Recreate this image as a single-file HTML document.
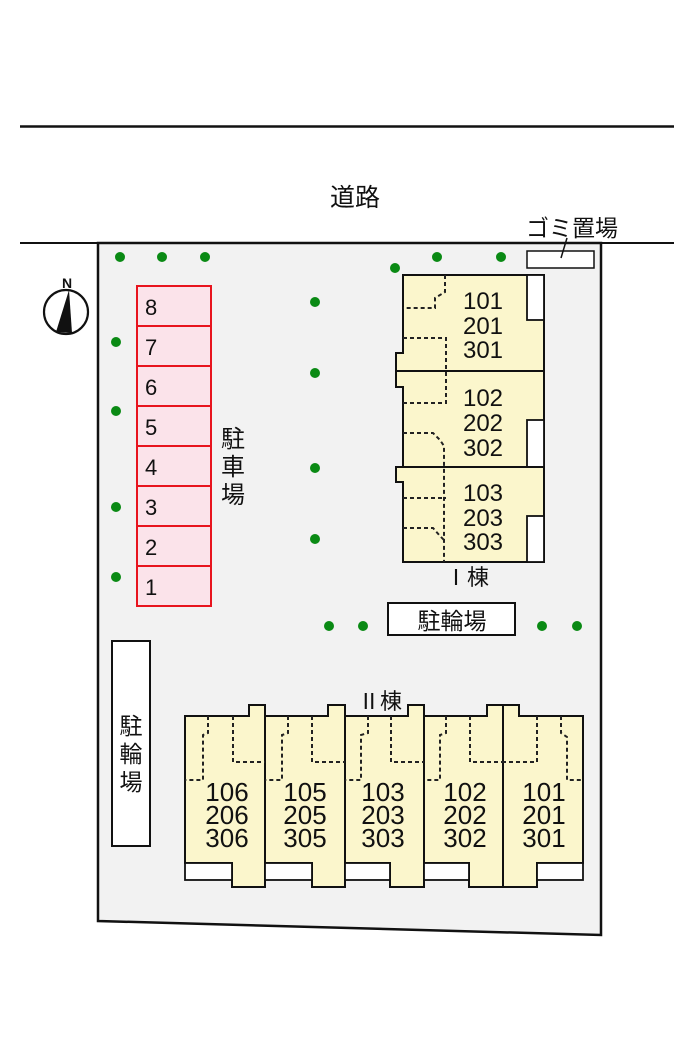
<!DOCTYPE html>
<html><head><meta charset="utf-8">
<style>
html,body{margin:0;padding:0;background:#fff;}
svg{display:block;}
text{font-family:"Liberation Sans","Noto Sans CJK JP",sans-serif;fill:#111;}
</style></head>
<body>
<svg width="700" height="1049" viewBox="0 0 700 1049" xmlns="http://www.w3.org/2000/svg">
<rect width="700" height="1049" fill="#fff"/>
<line x1="20" y1="126.5" x2="674" y2="126.5" stroke="#111" stroke-width="2.5"/>
<text x="355" y="206" font-size="25" text-anchor="middle">道路</text>
<polygon points="98,243 601,243 601,935 98,921" fill="#f2f2f2" stroke="#111" stroke-width="2.5"/>
<line x1="20" y1="243" x2="674" y2="243" stroke="#111" stroke-width="2"/>
<text x="572" y="236" font-size="23" text-anchor="middle">ゴミ置場</text>
<rect x="527" y="251" width="67" height="17" fill="#fff" stroke="#111" stroke-width="1.5"/>
<line x1="567" y1="238" x2="561" y2="258" stroke="#111" stroke-width="1.5"/>
<circle cx="66" cy="312" r="22" fill="#fff" stroke="#111" stroke-width="2.2"/>
<polygon points="69,290 56,332 72,333" fill="#111"/>
<text x="67" y="288" font-size="14" font-weight="bold" text-anchor="middle">N</text>
<g fill="#0a8a14">
<circle cx="120" cy="257" r="5"/><circle cx="162" cy="257" r="5"/><circle cx="205" cy="257" r="5"/>
<circle cx="395" cy="268" r="5"/><circle cx="437" cy="257" r="5"/><circle cx="501" cy="257" r="5"/>
<circle cx="315" cy="302" r="5"/><circle cx="315" cy="373" r="5"/><circle cx="315" cy="468" r="5"/><circle cx="315" cy="539" r="5"/>
<circle cx="116" cy="342" r="5"/><circle cx="116" cy="411" r="5"/><circle cx="116" cy="507" r="5"/><circle cx="116" cy="577" r="5"/>
<circle cx="329" cy="626" r="5"/><circle cx="363" cy="626" r="5"/><circle cx="542" cy="626" r="5"/><circle cx="577" cy="626" r="5"/>
</g>
<g stroke="#e8141e" stroke-width="2" fill="#fbe3ea">
<rect x="137" y="286" width="74" height="40"/><rect x="137" y="326" width="74" height="40"/>
<rect x="137" y="366" width="74" height="40"/><rect x="137" y="406" width="74" height="40"/>
<rect x="137" y="446" width="74" height="40"/><rect x="137" y="486" width="74" height="40"/>
<rect x="137" y="526" width="74" height="40"/><rect x="137" y="566" width="74" height="40"/>
</g>
<g font-size="22">
<text x="145" y="315">8</text><text x="145" y="355">7</text><text x="145" y="395">6</text><text x="145" y="435">5</text>
<text x="145" y="475">4</text><text x="145" y="515">3</text><text x="145" y="555">2</text><text x="145" y="595">1</text>
</g>
<g font-size="24" text-anchor="middle">
<text x="233" y="447">駐</text><text x="233" y="475">車</text><text x="233" y="503">場</text>
</g>
<rect x="112" y="641" width="38" height="205" fill="#fff" stroke="#111" stroke-width="2"/>
<g font-size="23" text-anchor="middle">
<text x="131" y="734">駐</text><text x="131" y="762">輪</text><text x="131" y="790">場</text>
</g>
<rect x="388" y="603" width="127" height="32" fill="#fff" stroke="#111" stroke-width="2"/>
<text x="452" y="629" font-size="23" text-anchor="middle">駐輪場</text>
<g stroke="#111" stroke-width="2" fill="#fbf6cc">
<polygon points="403,275 544,275 544,562 403,562 403,482 396,482 396,467 403,467 403,387 396,387 396,353 403,353"/>
</g>
<g stroke="#111" stroke-width="1.8" fill="#fff">
<rect x="527" y="275" width="17" height="45"/>
<rect x="527" y="420" width="17" height="47"/>
<rect x="527" y="516" width="17" height="46"/>
</g>
<line x1="396" y1="371" x2="544" y2="371" stroke="#111" stroke-width="2"/>
<line x1="396" y1="467" x2="544" y2="467" stroke="#111" stroke-width="2"/>
<g stroke="#222" stroke-width="2" fill="none" stroke-dasharray="4,3">
<polyline points="445,275 445,292 435,298 435,308 403,308"/>
<polyline points="403,338 446,338 446,403 403,403"/>
<polyline points="403,433 433,433 440,440 444,446 444,562"/>
<polyline points="403,498 446,498"/>
<polyline points="403,528 433,528 440,536 444,540"/>
</g>
<g font-size="24" text-anchor="middle">
<text x="483" y="309">101</text><text x="483" y="334">201</text><text x="483" y="358">301</text>
<text x="483" y="406">102</text><text x="483" y="431">202</text><text x="483" y="456">302</text>
<text x="483" y="501">103</text><text x="483" y="526">203</text><text x="483" y="550">303</text>
</g>
<text x="467" y="585" font-size="22" text-anchor="middle">Ⅰ棟</text>
<text x="380" y="709" font-size="22" text-anchor="middle">Ⅱ棟</text>
<g stroke="#111" stroke-width="2" fill="#fbf6cc">
<polygon points="185,716 249,716 249,705 265,705 265,887 232,887 232,863 185,863"/>
<polygon points="265,716 328,716 328,705 345,705 345,887 312,887 312,863 265,863"/>
<polygon points="345,716 408,716 408,705 424,705 424,887 390,887 390,863 345,863"/>
<polygon points="424,716 487,716 487,705 503,705 503,887 469,887 469,863 424,863"/>
<polygon points="503,705 519,705 519,716 583,716 583,863 537,863 537,887 503,887"/>
</g>
<g stroke="#111" stroke-width="1.8" fill="#fff">
<rect x="185" y="863" width="47" height="17"/>
<rect x="265" y="863" width="47" height="17"/>
<rect x="345" y="863" width="45" height="17"/>
<rect x="424" y="863" width="45" height="17"/>
<rect x="537" y="863" width="46" height="17"/>
</g>
<g stroke="#222" stroke-width="2" fill="none" stroke-dasharray="4,3">
<polyline points="208,716 208,733 203,735 203,780 185,780"/>
<polyline points="233,716 233,762 265,762"/>
<polyline points="288,716 288,733 282,735 282,780 265,780"/>
<polyline points="312,716 312,762 345,762"/>
<polyline points="368,716 368,733 361,735 361,780 345,780"/>
<polyline points="391,716 391,762 424,762"/>
<polyline points="446,716 446,733 440,735 440,780 424,780"/>
<polyline points="470,716 470,762 503,762"/>
<polyline points="537,716 537,762 503,762"/>
<polyline points="561,716 561,733 567,737 567,780 583,780"/>
</g>
<g font-size="26" text-anchor="middle">
<text x="227" y="801">106</text><text x="227" y="824">206</text><text x="227" y="847">306</text>
<text x="305" y="801">105</text><text x="305" y="824">205</text><text x="305" y="847">305</text>
<text x="383" y="801">103</text><text x="383" y="824">203</text><text x="383" y="847">303</text>
<text x="465" y="801">102</text><text x="465" y="824">202</text><text x="465" y="847">302</text>
<text x="544" y="801">101</text><text x="544" y="824">201</text><text x="544" y="847">301</text>
</g>
</svg>
</body></html>
